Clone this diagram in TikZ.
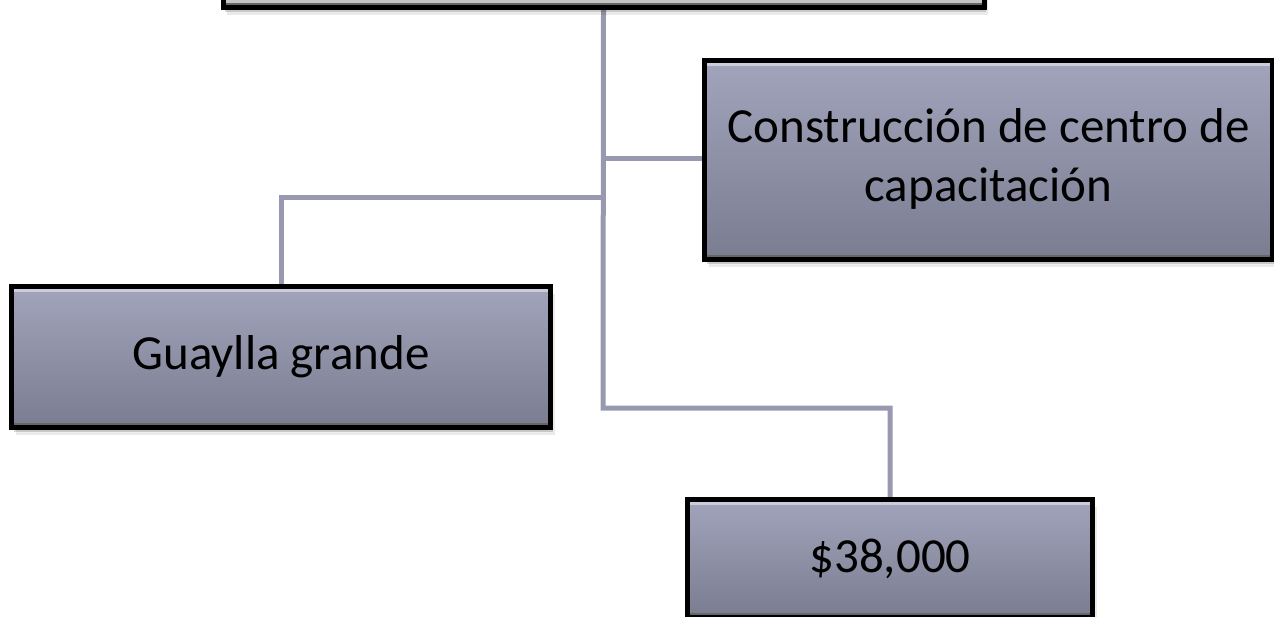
\documentclass[tikz,border=0pt]{standalone}
\usepackage{fontspec}
\setmainfont{Carlito}
\usetikzlibrary{shadows,backgrounds}
\definecolor{boxtop}{RGB}{162,164,188}
\definecolor{boxbot}{RGB}{122,124,144}
\definecolor{conn}{RGB}{152,153,176}
\definecolor{toptop}{RGB}{225,225,225}
\definecolor{topbot}{RGB}{196,196,196}
\tikzset{
  box/.style={draw=black, line width=5pt, top color=boxtop, bottom color=boxbot,
    inner sep=0pt, align=center, font=\fontsize{49}{59}\selectfont,
    drop shadow={shadow xshift=4pt, shadow yshift=-7pt, opacity=0.08, fill=black},
    drop shadow={shadow xshift=2pt, shadow yshift=-4pt, opacity=0.15, fill=black},
    path picture={
      \draw[line width=2.5pt, white!45!boxtop] ([xshift=2pt,yshift=-4pt]path picture bounding box.north west) -- ([xshift=-2pt,yshift=-4pt]path picture bounding box.north east);
      \draw[line width=2pt, black!60] ([xshift=2pt,yshift=3.5pt]path picture bounding box.south west) -- ([xshift=-2pt,yshift=3.5pt]path picture bounding box.south east);
    }},
  topbox/.style={box, top color=toptop, bottom color=topbot},
  connector/.style={draw=conn, line width=5pt}
}
\begin{document}
\begin{tikzpicture}[x=1pt,y=-1pt]
\useasboundingbox (0,0) rectangle (1274,616);
\node[topbox, minimum width=761pt, minimum height=200pt] (top) at (603.5,-92.5) {};
\node[box, minimum width=568pt, minimum height=199pt] (cons) at (988.5,160) {\raisebox{-5pt}{\begin{tabular}{@{}c@{}}Construcción de centro de\\capacitación\end{tabular}}};
\node[box, minimum width=539pt, minimum height=141pt] (guay) at (281,357) {\raisebox{-3pt}{Guaylla grande}};
\node[box, minimum width=405pt, minimum height=118pt] (dollar) at (890,558.5) {\$38,000};
\coordinate (jc) at (603,158);
\coordinate (jg) at (603,197);
\coordinate (jd) at (603,408);
\begin{scope}[on background layer]
\draw[connector] (top.south) -- (jd) -| (dollar.north);
\draw[connector] (jc) -- (jc -| cons.west);
\draw[connector] (jg) -| (guay.north);
\end{scope}
\end{tikzpicture}
\end{document}
